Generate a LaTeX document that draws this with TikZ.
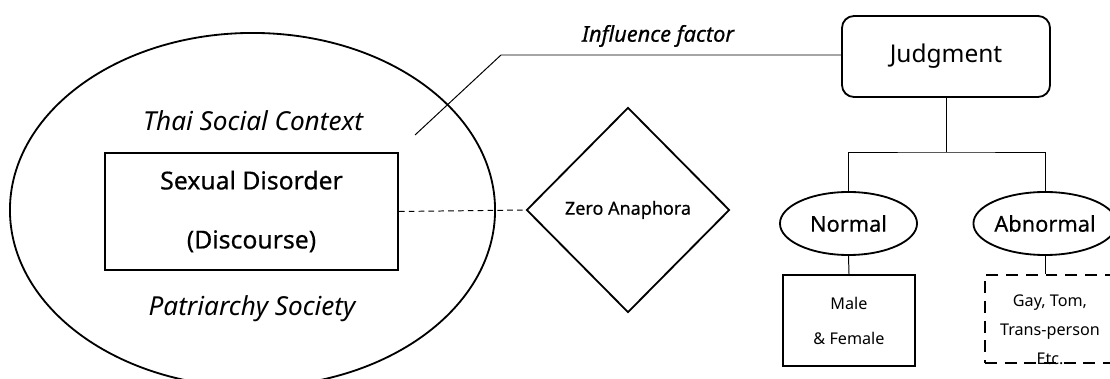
\documentclass[tikz,border=0pt]{standalone}
\usepackage{fontspec}
\setmainfont{Noto Sans}
\newfontfamily\medfont[FakeBold=0.5]{Noto Sans}
\usetikzlibrary{shapes.geometric}

\tikzset{
    shapeline/.style={draw, line width=1.3pt},
    thinline/.style={line width=0.7pt},
    bigtxt/.style={font=\fontsize{17.6}{42}\selectfont\medfont},
    midtxt/.style={font=\fontsize{15.5}{17}\selectfont\medfont},
    smalltxt/.style={font=\fontsize{11.5}{24.8}\selectfont}
}

\begin{document}
\begin{tikzpicture}[x=0.025cm, y=-0.025cm]
    \clip (0,0) rectangle (1110,379);

    % context and discourse
    \node[shapeline, ellipse, minimum width=12.125cm, minimum height=8.85cm] (context) at (252.5,210) {};
    \node[font=\fontsize{18.6}{20}\selectfont\itshape] (thai) at (253,121) {Thai Social Context};
    \node[font=\fontsize{18.6}{20}\selectfont\itshape] (patri) at (252,309) {Patriarchy Society};
    \node[shapeline, bigtxt, align=center, minimum width=7.325cm, minimum height=2.925cm] (sexual) at (251.5,211.5) {Sexual Disorder\\(Discourse)};

    % zero anaphora
    \node[shapeline, diamond, midtxt, font=\fontsize{12.8}{15}\selectfont\medfont, inner sep=0pt, minimum width=5.075cm, minimum height=5.125cm] (zero) at (628,210) {Zero Anaphora};
    \draw[thinline, dashed, dash pattern=on 4pt off 3pt] (sexual.east) -- (zero.west);

    % judgment tree
    \node[shapeline, rounded corners=0.3cm, font=\fontsize{17.4}{20}\selectfont, minimum width=5.2cm, minimum height=2.025cm] (judg) at (946,56.5) {Judgment};
    \node[shapeline, ellipse, midtxt, inner sep=0pt, minimum width=3.425cm, minimum height=1.575cm] (normal) at (848.5,223.5) {Normal};
    \node[shapeline, ellipse, midtxt, inner sep=0pt, minimum width=3.2cm, minimum height=1.575cm] (abnormal) at (1045,223.5) {Abnormal};
    \coordinate (fork) at (946,152);
    \draw[thinline] (judg.south) -- (fork);
    \draw[thinline] (normal.north) |- (fork) -| (abnormal.north);

    \node[shapeline, smalltxt, align=center, minimum width=3.3cm, minimum height=2.275cm] (male) at (849,320.5) {Male\\\& Female};
    \node[draw, line width=2pt, dash pattern=on 8.5pt off 5.5pt, minimum width=3.25cm, minimum height=2.2cm] (others) at (1050,319) {};
    \draw[thinline] (normal.south) -- (male.north);
    \draw[thinline] (abnormal.south) -- (others.north -| abnormal.south);
    \begin{scope}
        \clip (others.south west) rectangle (others.north east);
        \node[smalltxt, align=center, font=\fontsize{11.5}{20.5}\selectfont] (otherstxt) at (1050,330) {Gay, Tom,\\Trans-person\\Etc.};
    \end{scope}

    % influence factor
    \coordinate (inflstart) at (415,135);
    \coordinate (inflbend) at (501,55);
    \draw[thinline] (inflstart) -- (inflbend) -- (judg.west |- inflbend);
    \node[font=\fontsize{15.5}{17}\selectfont\medfont\itshape] (infl) at (658,36) {Influence factor};
\end{tikzpicture}
\end{document}
